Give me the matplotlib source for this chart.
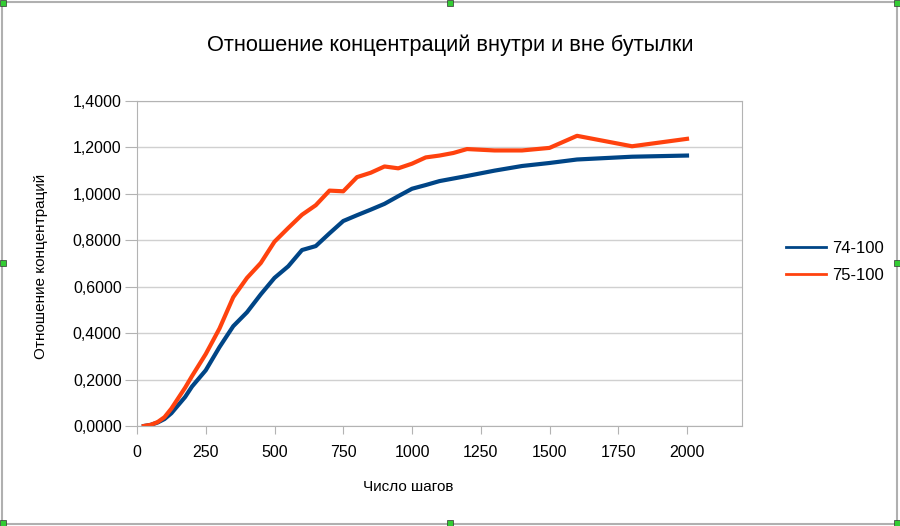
import matplotlib.pyplot as plt
from matplotlib.patches import Rectangle
from matplotlib.ticker import FuncFormatter

plt.rcParams['font.family'] = ['Liberation Sans', 'DejaVu Sans']

# data
steps = [25, 50, 75, 100, 125, 150, 175, 200, 250, 300, 350, 400, 450, 500,
         550, 600, 650, 700, 750, 800, 850, 900, 950, 1000, 1050, 1100, 1150,
         1200, 1300, 1400, 1500, 1600, 1800, 2000]
ratio_74 = [0.000, 0.005, 0.015, 0.030, 0.055, 0.090, 0.125, 0.170, 0.240,
            0.340, 0.430, 0.490, 0.567, 0.638, 0.688, 0.758, 0.775, 0.830,
            0.883, 0.908, 0.932, 0.957, 0.990, 1.022, 1.038, 1.055, 1.066,
            1.077, 1.100, 1.120, 1.133, 1.148, 1.160, 1.165]
ratio_75 = [0.000, 0.005, 0.017, 0.038, 0.075, 0.120, 0.165, 0.215, 0.310,
            0.420, 0.555, 0.638, 0.702, 0.794, 0.853, 0.910, 0.951, 1.014,
            1.011, 1.072, 1.091, 1.118, 1.110, 1.130, 1.157, 1.165, 1.176,
            1.193, 1.187, 1.187, 1.198, 1.250, 1.205, 1.237]
labels = ['74-100', '75-100']
colors = ['#004586', '#ff420e']

fig = plt.figure(figsize=(9, 5.26), dpi=100)
ax = fig.add_axes([137/900, 1 - 426/526, 605/900, 325/526])

ax.plot(steps, ratio_74, color=colors[0], lw=3, label=labels[0], solid_joinstyle='round')
ax.plot(steps, ratio_75, color=colors[1], lw=3, label=labels[1], solid_joinstyle='round')

ax.set_xlim(0, 2200)
ax.set_ylim(0, 1.4)
ax.set_xticks(range(0, 2001, 250))
ax.set_yticks([i * 0.2 for i in range(8)])
ax.yaxis.set_major_formatter(FuncFormatter(lambda v, p: f'{v:.4f}'.replace('.', ',')))
ax.grid(axis='y', color='#d0d0d0', lw=1)
ax.set_axisbelow(True)
for s in ax.spines.values():
    s.set_color('#b3b3b3')
ax.tick_params(axis='both', colors='#b3b3b3', labelcolor='black', labelsize=11.5)
ax.tick_params(axis='y', length=8.5, pad=2.5)
ax.tick_params(axis='x', length=6, pad=8)

fig.text(0.5, 1 - 45/526, 'Отношение концентраций внутри и вне бутылки',
         ha='center', va='center', fontsize=15.7)
fig.text(408/900, 1 - 487/526, 'Число шагов', ha='center', va='center', fontsize=11)
fig.text(41/900, 1 - 266/526, 'Отношение концентраций', ha='center', va='center',
         rotation=90, fontsize=11)

leg = fig.legend(loc='center left', bbox_to_anchor=(771/900, 1 - 262/526), frameon=False,
                 fontsize=12, handlelength=2.4, labelspacing=0.75, handletextpad=0.35)
for h in leg.get_lines():
    h.set_linewidth(2)

# chart frame and selection handles
fig.patches.append(Rectangle((0.002, 0.004), 0.995, 0.992, transform=fig.transFigure,
                             fill=False, edgecolor='#b0b0b0', lw=1.5))
for hx, hy in [(3, 3), (450, 3), (897, 3), (3, 263), (897, 263), (3, 523), (450, 523), (897, 523)]:
    fig.patches.append(Rectangle((hx/900 - 0.003, 1 - hy/526 - 0.005), 0.006, 0.01,
                                 transform=fig.transFigure, facecolor='#33cc33',
                                 edgecolor='#333333', lw=0.5))

fig.savefig('out.png', dpi=100)
